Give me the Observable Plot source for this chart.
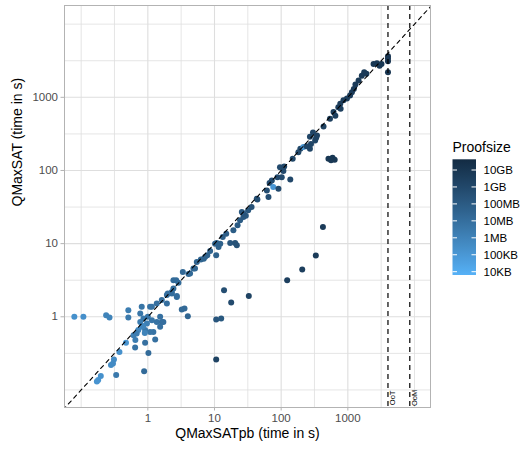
<!DOCTYPE html>
<html>
<head>
<meta charset="utf-8">
<script src="https://cdn.jsdelivr.net/npm/d3@7"></script>
<script src="https://cdn.jsdelivr.net/npm/@observablehq/plot@0.6"></script>
<style>
  body { margin: 0; background: white; }
  #chart { position: relative; width: 521px; height: 450px; }
</style>
</head>
<body>
<div id="chart"></div>
<script>
// QMaxSATpb time (s)
const pbTime = [
  0.079, 0.108, 0.237, 0.266, 0.51, 0.51, 0.47, 0.375, 0.31, 0.30, 0.28, 0.197, 0.18, 0.172, 0.335, 0.645, 1.02, 0.91, 0.88, 1.29,
  1.21, 0.61, 0.72, 0.81, 0.97, 1.15, 1.36, 1.53, 1.62, 0.86, 1.0, 0.77, 0.81, 1.08, 1.36, 1.62, 1.93, 2.29, 2.72, 1.93,
  0.91, 0.68, 1.08, 1.53, 0.65, 0.77, 1.71, 0.85, 0.9,
  3.23, 3.55, 3.98, 2.72, 2.29, 1.99, 2.42, 2.66, 2.88, 3.35, 4.07, 4.83, 5.43, 6.24, 6.9, 7.8, 8.6, 10.6, 10.2, 10.8,
  13.3, 15, 17.2, 20.4, 21.6, 19.2, 22.2, 24.2, 27.2, 29.5, 32, 13.9, 17.8, 32.7, 10.6, 12.6, 10.6,
  123, 207, 331, 423,
  27.2, 36, 44, 61, 64.5, 67, 72.4, 76, 91, 88, 102, 96, 111, 137, 108, 149, 194, 216, 240, 270,
  280, 323, 335, 270, 345, 300, 432, 512, 590, 635, 560, 540, 610, 720, 770, 860, 970, 1080, 1150, 1230,
  1300, 1450, 1620, 1760, 1900, 2430, 2730, 2990, 3200, 4000, 4000, 4000, 4000, 780, 650,
  2.42, 1.15, 5.1, 4.3, 7.25, 11.5, 12.2, 181, 43, 25.7
];
// QMaxSAT time (s)
const qTime = [
  1.0, 1.0, 1.05, 0.98, 1.23, 0.98, 0.44, 0.33, 0.26, 0.23, 0.22, 0.155, 0.137, 0.13, 0.16, 0.38, 0.32, 0.44, 0.18, 0.49,
  0.62, 0.56, 0.66, 0.73, 0.81, 0.90, 0.85, 1.0, 0.85, 0.95, 1.0, 1.11, 1.37, 1.37, 1.52, 1.69, 1.98, 2.08, 1.87, 1.52,
  0.66, 0.59, 0.62, 0.73, 0.48, 0.85, 0.85, 0.75, 0.6,
  1.26, 1.30, 1.02, 1.92, 2.19, 2.08, 3.17, 3.17, 2.91, 4.1, 3.83, 4.57, 5.6, 6.07, 6.2, 6.94, 7.9, 6.94, 10, 10.2,
  12.3, 13.7, 10.2, 10.2, 9.5, 15.2, 17.8, 20.8, 23.1, 24, 28.5, 2.31, 1.57, 1.92, 0.92, 0.95, 0.26,
  3.17, 4.43, 6.87, 16.9,
  25.8, 31.6, 40, 53.4, 43.3, 67.4, 73.1, 59.4, 56.4, 81, 81, 111, 113, 75.5, 98.6, 145, 198, 209, 215, 198,
  230, 256, 280, 290, 300, 330, 400, 145, 149, 140, 138, 510, 630, 730, 815, 910, 960, 1060, 1170, 1300,
  1500, 1700, 1970, 2200, 2100, 2860, 2930, 2700, 2850, 3380, 3100, 3640, 2200, 700, 560,
  2.44, 1.37, 4.57, 3.9, 6.6, 9.0, 10, 178, 41, 27
];
// Proof size (bytes)
const proofBytes = [
  2e5, 2.5e5, 1e6, 1e6, 2e6, 3e6, 1.5e5, 2e5, 4e5, 4e5, 4e5, 2e5, 1.5e5, 1.5e5, 3e6, 6e6, 1.5e7, 8e6, 1.5e7, 8e6,
  6e6, 1.5e6, 6e5, 5e5, 1.5e6, 4e6, 6e6, 8e6, 1e7, 3e6, 4e6, 4e6, 5e6, 6e6, 8e6, 8e6, 1e7, 1.2e7, 1.2e7, 1e7,
  3e6, 2e6, 5e6, 8e6, 2e6, 2e6, 1e7, 8e5, 1e6,
  2e7, 2e7, 3e7, 1.2e7, 1.2e7, 1e7, 1.5e7, 1.5e7, 1.5e7, 2e7, 2e7, 2.5e7, 3e7, 3e7, 3.5e7, 4e7, 4e7, 5e7, 5e7, 5e7,
  6e7, 7e7, 2e8, 3e8, 3e8, 8e7, 1e8, 1e8, 1.2e8, 1.5e8, 1.5e8, 5e8, 8e8, 2e9, 2e8, 1.5e8, 2e9,
  3e9, 3e9, 5e9, 5e9,
  2e8, 3e8, 4e8, 5e8, 5e8, 6e8, 6e8, 1e5, 8e8, 8e8, 8e8, 8e8, 1e9, 1e9, 8e8, 1e9, 1e9, 1.5e5, 1.5e9, 1.5e9,
  1.5e9, 1.5e9, 2e9, 1.5e9, 2e9, 1.5e9, 2e9, 8e9, 8e9, 8e9, 8e9, 3e9, 3e9, 3e9, 4e9, 4e9, 4e9, 5e9, 5e9, 5e9,
  5e9, 6e9, 6e9, 6e9, 6e9, 8e9, 8e9, 8e9, 8e9, 1e10, 1e10, 1e10, 1e10, 3e9, 3e9,
  1.5e7, 6e6, 2.5e7, 2e7, 3.5e7, 5e7, 5e7, 1e9, 4e8, 1.2e8
];

const axisTicks = [1, 10, 100, 1000];
const minorGrid = [0.1, 0.316, 3.16, 31.6, 316, 3162, 10000];
const limitLabels = ["OoT", "OoM"];
const limitValues = [4000, 8500];
const sizeTicks = [1e4, 1e5, 1e6, 1e7, 1e8, 1e9, 1e10];
const sizeLabels = ["10KB", "100KB", "1MB", "10MB", "100MB", "1GB", "10GB"];

const points = pbTime.map((x, i) => ({x, y: qTime[i], size: proofBytes[i]}));
const limits = limitValues.map((v, i) => ({v, label: limitLabels[i]}));

const colorOpts = {type: "log", domain: [6400, 4.3e10], range: ["#56B1F7", "#132B43"], interpolate: "lab"};
const gridColor = "#dedede";

const chart = Plot.plot({
  width: 521, height: 450,
  marginLeft: 64, marginRight: 91, marginTop: 5, marginBottom: 43,
  style: {fontFamily: "'Liberation Sans', Arial, sans-serif", fontSize: "11.5px", background: "white", overflow: "visible"},
  x: {type: "log", domain: [10 ** -1.25, 10 ** 4.24]},
  y: {type: "log", domain: [10 ** -1.24, 10 ** 4.255]},
  color: colorOpts,
  marks: [
    Plot.ruleX(minorGrid, {stroke: gridColor, strokeWidth: 0.8, clip: true}),
    Plot.ruleY(minorGrid, {stroke: gridColor, strokeWidth: 0.8, clip: true}),
    Plot.ruleX(axisTicks, {stroke: gridColor, strokeWidth: 1.1}),
    Plot.ruleY(axisTicks, {stroke: gridColor, strokeWidth: 1.1}),
    Plot.dot(points, {x: "x", y: "y", fill: "size", r: 3}),
    Plot.line([0.01, 1e5], {x: d => d, y: d => d, stroke: "black", strokeWidth: 1.1, strokeDasharray: "4,4", clip: true}),
    Plot.ruleX(limits, {x: "v", stroke: "black", strokeWidth: 1.2, strokeDasharray: "5,4"}),
    Plot.text(limits, {x: "v", y: () => 0.078, text: "label", rotate: -90, dx: 4.5, fontSize: 7.5, fill: "black"}),
    Plot.frame({stroke: "#b3b3b3", strokeWidth: 1}),
    Plot.axisX(axisTicks, {tickFormat: d => String(d), tickSize: 3.5, tickPadding: 3, stroke: "#b3b3b3", fill: "#4d4d4d", label: null}),
    Plot.axisY(axisTicks, {tickFormat: d => String(d), tickSize: 3.5, tickPadding: 3, stroke: "#b3b3b3", fill: "#4d4d4d", label: null}),
    Plot.text(["QMaxSATpb (time in s)"], {frameAnchor: "bottom", dy: 30, fontSize: 14, fill: "black"}),
    Plot.text(["QMaxSAT (time in s)"], {frameAnchor: "left", dx: -47, rotate: -90, fontSize: 14, fill: "black"})
  ]
});
document.getElementById("chart").appendChild(chart);

// Legend (colour bar) drawn with d3 using Plot's colour scale
const cscale = Plot.scale({color: colorOpts});
const svg = d3.select(chart);
const lg = svg.append("g")
  .attr("font-family", "'Liberation Sans', Arial, sans-serif")
  .attr("text-anchor", "start");
const barX = 452.5, barW = 23.5, barTop = 159.3, barBot = 275;
const ppd = 16.95; // pixels per decade
const yOf = v => 271.7 - (Math.log10(v) - 4) * ppd;
const logTop = 4 + (271.7 - barTop) / ppd, logBot = 4 - (barBot - 271.7) / ppd;
const grad = svg.append("defs").append("linearGradient")
  .attr("id", "pgrad").attr("x1", 0).attr("x2", 0).attr("y1", 1).attr("y2", 0);
for (let i = 0; i <= 20; i++) {
  const t = i / 20;
  grad.append("stop").attr("offset", t).attr("stop-color", cscale.apply(10 ** (logBot + t * (logTop - logBot))));
}
lg.append("text").attr("x", barX).attr("y", 151.5).attr("font-size", 14).attr("fill", "black").text("Proofsize");
lg.append("rect").attr("x", barX).attr("y", barTop).attr("width", barW).attr("height", barBot - barTop).attr("fill", "url(#pgrad)");
sizeTicks.forEach((v, i) => {
  const y = yOf(v);
  lg.append("line").attr("x1", barX).attr("x2", barX + 4.5).attr("y1", y).attr("y2", y).attr("stroke", "white").attr("stroke-width", 1);
  lg.append("line").attr("x1", barX + barW - 4.5).attr("x2", barX + barW).attr("y1", y).attr("y2", y).attr("stroke", "white").attr("stroke-width", 1);
  lg.append("text").attr("x", 483.5).attr("y", y).attr("dy", "0.35em").attr("font-size", 11.5).attr("fill", "black").text(sizeLabels[i]);
});
</script>
</body>
</html>
